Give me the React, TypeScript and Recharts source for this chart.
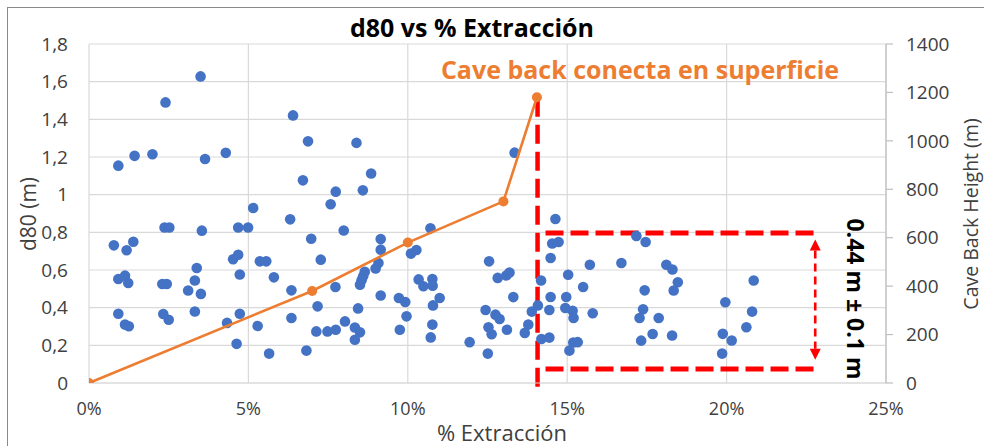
import React from 'react';
import { ScatterChart, Scatter, XAxis, YAxis, CartesianGrid, ReferenceLine } from 'recharts';

// % Extracción of each sample (blue points)
const extraction = [
  0.78, 0.92, 0.92, 1.13, 1.23, 1.18, 1.39, 0.92, 1.13, 1.25,
  1.43, 1.99, 2.40, 2.37, 2.52, 2.30, 2.44, 2.33, 2.50, 3.50,
  3.64, 3.54, 3.38, 3.32, 3.11, 3.51, 3.32, 4.29, 4.33, 4.68,
  4.52, 4.68, 4.73, 4.73, 4.63, 4.99, 5.15, 5.29, 5.36, 5.56,
  5.65, 5.80, 6.31, 6.40, 6.35, 6.35, 6.71, 6.87, 6.97, 7.27,
  7.17, 7.13, 6.82, 7.48, 7.58, 7.74, 7.99, 7.73, 8.03, 7.74,
  8.34, 8.50, 8.34, 8.44, 8.39, 8.59, 8.85, 8.65, 8.60, 8.55,
  8.50, 9.15, 9.15, 9.08, 8.99, 9.15, 9.72, 9.92, 9.96, 9.75,
  10.10, 10.27, 10.71, 10.34, 10.49, 10.77, 10.78, 11.00, 10.79, 10.77,
  10.72, 11.94, 12.51, 12.55, 12.82, 13.09, 13.19, 13.31, 12.44, 12.75,
  12.88, 12.53, 12.63, 13.11, 13.35, 13.67, 13.78, 13.89, 14.08, 14.18,
  14.19, 14.44, 14.63, 14.53, 14.73, 14.48, 14.48, 14.44, 15.03, 14.97,
  14.94, 15.17, 15.20, 15.07, 15.19, 15.33, 15.50, 15.71, 15.80, 16.70,
  17.17, 17.46, 17.43, 17.38, 17.27, 17.87, 17.68, 17.32, 18.11, 18.30,
  18.47, 18.34, 18.29, 19.96, 19.88, 20.16, 19.86, 20.80, 20.85, 20.62,
];

// d80 (m) of each sample
const d80 = [
  0.731, 1.154, 0.552, 0.570, 0.531, 0.705, 0.750, 0.368, 0.310, 0.301,
  1.206, 1.215, 1.490, 0.826, 0.826, 0.526, 0.526, 0.366, 0.336, 1.628,
  1.189, 0.809, 0.611, 0.544, 0.491, 0.473, 0.380, 1.222, 0.319, 0.826,
  0.657, 0.681, 0.576, 0.368, 0.208, 0.826, 0.929, 0.303, 0.646, 0.646,
  0.156, 0.561, 0.869, 1.421, 0.492, 0.345, 1.076, 1.283, 0.766, 0.655,
  0.407, 0.274, 0.172, 0.274, 0.949, 1.016, 0.810, 0.510, 0.327, 0.283,
  0.295, 0.269, 0.230, 0.396, 1.275, 1.023, 1.112, 0.591, 0.567, 0.546,
  0.522, 0.765, 0.708, 0.637, 0.608, 0.465, 0.451, 0.430, 0.354, 0.283,
  0.687, 0.706, 0.822, 0.550, 0.514, 0.552, 0.516, 0.451, 0.412, 0.310,
  0.242, 0.217, 0.156, 0.646, 0.558, 0.571, 0.587, 0.456, 0.388, 0.363,
  0.340, 0.296, 0.259, 0.283, 1.223, 0.266, 0.310, 0.379, 0.412, 0.544,
  0.234, 0.241, 0.871, 0.741, 0.749, 0.664, 0.457, 0.388, 0.575, 0.457,
  0.398, 0.384, 0.345, 0.172, 0.215, 0.217, 0.510, 0.628, 0.370, 0.637,
  0.781, 0.749, 0.492, 0.391, 0.345, 0.345, 0.260, 0.225, 0.628, 0.603,
  0.535, 0.491, 0.252, 0.429, 0.261, 0.226, 0.156, 0.379, 0.544, 0.296,
];

// Cave back height curve (orange, right axis)
const caveExtraction = [0, 7.0, 10.0, 13.0, 14.05];
const caveHeight = [0, 380, 580, 750, 1180];

// Axis ticks
const xTicks = [0, 5, 10, 15, 20, 25];
const leftTicks = [0, 0.2, 0.4, 0.6, 0.8, 1, 1.2, 1.4, 1.6, 1.8];
const rightTicks = [0, 200, 400, 600, 800, 1000, 1200, 1400];

// Annotation values (data units)
const connectExtraction = 14.07;
const connectLineBottom = -0.06;
const connectLineTop = 1.515;
const bandStart = 14.32;
const bandEnd = 22.81;
const bandTop = 0.797;
const bandBottom = 0.074;
const arrowExtraction = 22.78;
const arrowTop = 0.762;
const arrowBottom = 0.124;

const samples = extraction.map((x, i) => ({ x, y: d80[i] }));
const cave = caveExtraction.map((x, i) => ({ x, y: caveHeight[i] }));

const FONT = '"Open Sans", "DejaVu Sans", sans-serif';
const BLUE = '#4472C4';
const ORANGE = '#ED7D31';
const RED = '#FF0000';

const BlueDot = (p: any) => <circle cx={p.cx} cy={p.cy} r={5.3} fill={BLUE} />;
const OrangeDot = (p: any) => <circle cx={p.cx} cy={p.cy} r={5} fill={ORANGE} />;

const ArrowShape = (p: any) => {
  const { x1, y1, x2, y2 } = p;
  const top = Math.min(y1, y2);
  const bot = Math.max(y1, y2);
  const x = x1;
  const h = 11;
  const w = 5.5;
  return (
    <g>
      <line x1={x} y1={top + h} x2={x} y2={bot - h} stroke={RED} strokeWidth={2.6} strokeDasharray="8 5" />
      <polygon points={`${x},${top} ${x - w},${top + h} ${x + w},${top + h}`} fill={RED} />
      <polygon points={`${x},${bot} ${x - w},${bot - h} ${x + w},${bot - h}`} fill={RED} />
    </g>
  );
};

const fmtLeft = (v: number) => String(Number(v.toFixed(1))).replace('.', ',');

export default function App() {
  return (
    <div style={{ position: 'absolute', left: 0, top: 0, width: 984, height: 446, overflow: 'hidden', background: '#fff', fontFamily: FONT }}>
      <div style={{ position: 'absolute', left: 7, top: 7, width: 1100, height: 600, border: '1px solid #8a8a8a' }} />
      <ScatterChart width={984} height={446} margin={{ top: 44, right: 38, bottom: 33, left: 29 }} style={{ position: 'absolute', left: 0, top: 0 }}>
        <CartesianGrid yAxisId="left" stroke="#d9d9d9" strokeWidth={1.2} horizontalValues={leftTicks} verticalValues={xTicks} />
        <XAxis
          type="number"
          dataKey="x"
          domain={[0, 25]}
          ticks={xTicks}
          tickFormatter={(v: number) => `${v}%`}
          height={30}
          axisLine={{ stroke: '#d9d9d9', strokeWidth: 1.2 }}
          tickLine={false}
          tickSize={0}
          tickMargin={19}
          tick={{ fill: '#404040', fontSize: 18, fontFamily: FONT }}
          allowDataOverflow
        />
        <YAxis
          yAxisId="left"
          type="number"
          domain={[0, 1.8]}
          ticks={leftTicks}
          tickFormatter={fmtLeft}
          width={60}
          axisLine={false}
          tickLine={false}
          tickSize={0}
          tickMargin={21}
          tick={{ fill: '#404040', fontSize: 19, fontFamily: FONT }}
          allowDataOverflow
        />
        <YAxis
          yAxisId="right"
          orientation="right"
          type="number"
          domain={[0, 1400]}
          ticks={rightTicks}
          width={60}
          axisLine={{ stroke: '#bfbfbf', strokeWidth: 1.2 }}
          tickLine={{ stroke: '#bfbfbf', strokeWidth: 1.2 }}
          tickSize={7}
          tickMargin={13}
          tick={{ fill: '#404040', fontSize: 19, fontFamily: FONT, textAnchor: 'start' }}
          allowDataOverflow
        />
        <Scatter yAxisId="left" data={samples} dataKey="y" shape={BlueDot} isAnimationActive={false} />
        <Scatter
          yAxisId="right"
          data={cave}
          dataKey="y"
          shape={OrangeDot}
          line={{ stroke: ORANGE, strokeWidth: 2.6 }}
          isAnimationActive={false}
        />
        <ReferenceLine
          yAxisId="left"
          segment={[{ x: connectExtraction, y: connectLineTop }, { x: connectExtraction, y: connectLineBottom }]}
          stroke={RED}
          strokeWidth={4.5}
          strokeDasharray="19 8"
          ifOverflow="visible"
        />
        <ReferenceLine
          yAxisId="left"
          segment={[{ x: bandStart, y: bandTop }, { x: bandEnd, y: bandTop }]}
          stroke={RED}
          strokeWidth={5}
          strokeDasharray="18 7"
          ifOverflow="visible"
        />
        <ReferenceLine
          yAxisId="left"
          segment={[{ x: bandStart, y: bandBottom }, { x: bandEnd, y: bandBottom }]}
          stroke={RED}
          strokeWidth={5}
          strokeDasharray="18 7"
          ifOverflow="visible"
        />
        <ReferenceLine
          yAxisId="left"
          segment={[{ x: arrowExtraction, y: arrowTop }, { x: arrowExtraction, y: arrowBottom }]}
          shape={ArrowShape}
          ifOverflow="visible"
        />
      </ScatterChart>
      <svg width={984} height={446} style={{ position: 'absolute', left: 0, top: 0, pointerEvents: 'none' }}>
        <text x={472} y={37} textAnchor="middle" fontFamily={FONT} fontSize={25} fontWeight="bold" fill="#000">d80 vs % Extracción</text>
        <text x={640} y={79} textAnchor="middle" fontFamily={FONT} fontSize={25} fontWeight="bold" fill={ORANGE}>Cave back conecta en superficie</text>
        <text x={502} y={441} textAnchor="middle" fontFamily={FONT} fontSize={22} fill="#404040">% Extracción</text>
        <text transform="translate(28,214) rotate(-90)" textAnchor="middle" dominantBaseline="central" fontFamily={FONT} fontSize={21} fill="#404040">d80 (m)</text>
        <text transform="translate(970,214) rotate(-90)" textAnchor="middle" dominantBaseline="central" fontFamily={FONT} fontSize={19.5} fill="#404040">Cave Back Height (m)</text>
        <text transform="translate(856,299) rotate(90)" textAnchor="middle" dominantBaseline="central" fontFamily={FONT} fontSize={23} fontWeight="bold" fill="#000">0.44 m ± 0.1 m</text>
      </svg>
    </div>
  );
}
